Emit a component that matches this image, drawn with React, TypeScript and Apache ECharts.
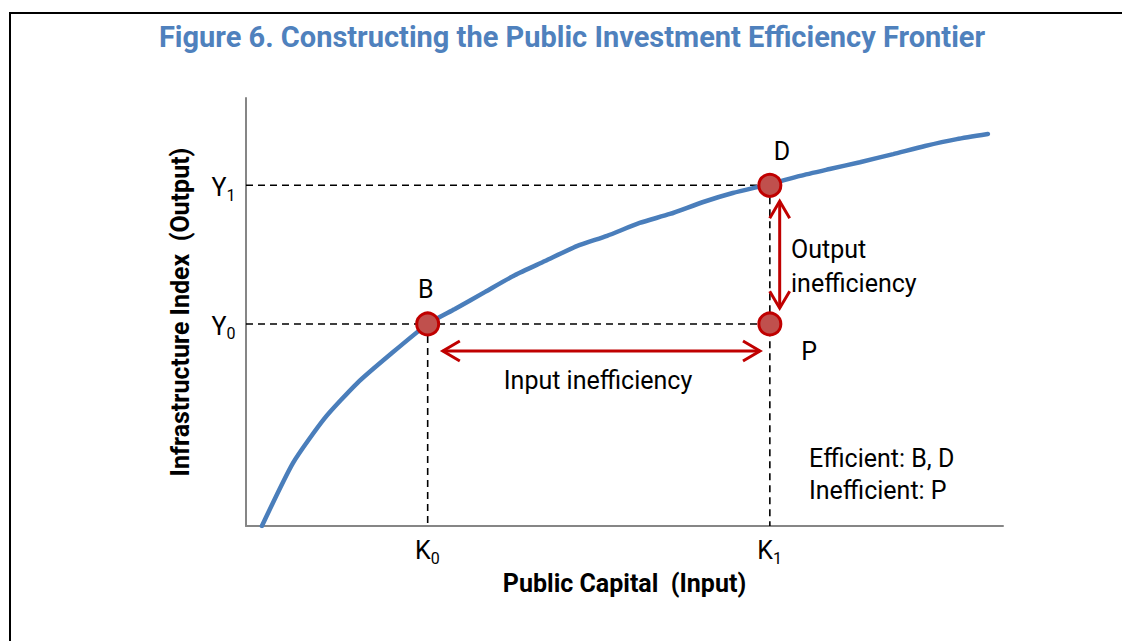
import React, { useEffect, useRef } from "react";
import * as echarts from "echarts";

// Frontier curve (x: public capital, y: infrastructure index)
const frontierX = [2.1, 6.2, 10.4, 14.7, 19.0, 24.0, 27.6, 31.6, 35.5, 39.5, 43.7, 47.7, 52.0, 56.0, 60.4, 64.3, 69.2, 73.2, 77.1, 81.1, 85.5, 89.7, 93.9, 98.0];
const frontierY = [0, 14.7, 25.2, 33.4, 40.0, 47.2, 50.7, 54.7, 58.6, 61.9, 65.4, 67.8, 70.8, 72.9, 75.7, 77.8, 79.9, 81.8, 83.4, 85.0, 86.9, 88.8, 90.4, 91.6];

// Reference levels
const K0 = 24.0;
const K1 = 69.2;
const Y0 = 47.2;
const Y1 = 79.6;

// Points
const pointNames = ["B", "D", "P"];
const pointX = [K0, K1, K1];
const pointY = [Y0, Y1, Y0];

// Tick labels
const xTickValues = [K0, K1];
const xTickLabels = ["{m|K}{s|0}{z| }", "{m|K}{s|1}{z| }"];
const yTickValues = [Y0, Y1];
const yTickLabels = ["{m|Y}{s|0}{z| }", "{m|Y}{s|1}{z| }"];

// Arrows [x1, y1, x2, y2]
const arrowInput = [26.0, 40.9, 67.9, 40.9];
const arrowOutput = [70.5, 75.9, 70.5, 50.9];

const FONT = "Roboto";
const RED = "#C00000";
const FS = 25;

export default function App() {
  const ref = useRef<HTMLDivElement>(null);
  useEffect(() => {
    document.body.style.margin = "0";
    const chart = echarts.init(ref.current!, null, { renderer: "svg" });
    const rich = {
      m: { fontSize: FS, fontFamily: FONT, color: "#000", lineHeight: 24, verticalAlign: "top" as const },
      s: { fontSize: 16, fontFamily: FONT, color: "#000", lineHeight: 16, verticalAlign: "bottom" as const },
      z: { fontSize: 2, lineHeight: 28 },
    };
    const dash = { color: "#000", width: 1.6, type: [7, 5] as any };
    chart.setOption({
      animation: false,
      grid: { left: 246, right: 119, top: 98, bottom: 115, containLabel: false },
      xAxis: {
        type: "value",
        min: 0,
        max: 100,
        splitLine: { show: false },
        axisTick: { show: false },
        axisLine: { show: true, lineStyle: { color: "#868686", width: 2 } },
        axisLabel: {
          customValues: xTickValues,
          formatter: (v: number) => xTickLabels[xTickValues.indexOf(v)] ?? "",
          rich,
          margin: 12,
        },
        name: "Public Capital  (Input)",
        nameLocation: "middle",
        nameGap: 44,
        nameTextStyle: { fontFamily: FONT, fontWeight: "bold", fontSize: 25, color: "#000" },
      },
      yAxis: {
        type: "value",
        min: 0,
        max: 100,
        splitLine: { show: false },
        axisTick: { show: false },
        axisLine: { show: true, lineStyle: { color: "#868686", width: 2 } },
        axisLabel: {
          customValues: yTickValues,
          formatter: (v: number) => yTickLabels[yTickValues.indexOf(v)] ?? "",
          rich,
          margin: 10,
          padding: [8, 0, 0, 0],
        },
        name: "Infrastructure Index  (Output)",
        nameLocation: "middle",
        nameRotate: 90,
        nameGap: 53,
        nameTextStyle: { fontFamily: FONT, fontWeight: "bold", fontSize: 25, color: "#000" },
      },
      series: [
        { type: "line", data: [[0, Y1], [K1, Y1]], symbol: "none", lineStyle: dash, z: 1 },
        { type: "line", data: [[0, Y0], [K1, Y0]], symbol: "none", lineStyle: dash, z: 1 },
        { type: "line", data: [[K0, Y0], [K0, 0]], symbol: "none", lineStyle: dash, z: 1 },
        { type: "line", data: [[K1, Y1], [K1, 0]], symbol: "none", lineStyle: dash, z: 1 },
        {
          type: "line",
          data: frontierX.map((x, i) => [x, frontierY[i]]),
          symbol: "none",
          smooth: 0.2,
          lineStyle: { color: "#4A7EBB", width: 4.5, cap: "round" },
          z: 2,
        },
        {
          type: "custom",
          z: 3,
          data: [arrowInput, arrowOutput],
          renderItem: (_p: any, api: any) => {
            const a = api.coord([api.value(0), api.value(1)]);
            const b = api.coord([api.value(2), api.value(3)]);
            const dx = b[0] - a[0];
            const dy = b[1] - a[1];
            const len = Math.hypot(dx, dy);
            const ux = dx / len, uy = dy / len;
            const nx = -uy, ny = ux;
            const L = 17, W = 10;
            const st = { stroke: RED, lineWidth: 3, fill: null, lineJoin: "miter" };
            const headB = [
              [b[0] - ux * L + nx * W, b[1] - uy * L + ny * W],
              [b[0], b[1]],
              [b[0] - ux * L - nx * W, b[1] - uy * L - ny * W],
            ];
            const headA = [
              [a[0] + ux * L + nx * W, a[1] + uy * L + ny * W],
              [a[0], a[1]],
              [a[0] + ux * L - nx * W, a[1] + uy * L - ny * W],
            ];
            return {
              type: "group",
              children: [
                { type: "line", shape: { x1: a[0], y1: a[1], x2: b[0], y2: b[1] }, style: st },
                { type: "polyline", shape: { points: headA }, style: st },
                { type: "polyline", shape: { points: headB }, style: st },
              ],
            };
          },
        },
        {
          type: "scatter",
          z: 4,
          symbolSize: 22,
          data: pointX.map((x, i) => ({
            value: [x, pointY[i]],
            name: pointNames[i],
            label: {
              show: true,
              formatter: pointNames[i],
              position: i === 2 ? "right" : "top",
              offset: i === 0 ? [-2, -4] : i === 1 ? [12, -4] : [14, 28],
              fontFamily: FONT,
              fontSize: FS,
              color: "#000",
            },
          })),
          itemStyle: { color: "#C0504D", borderColor: RED, borderWidth: 3, opacity: 1 },
        },
      ],
      graphic: [
        { type: "rect", shape: { x: 9, y: 12, width: 1113, height: 2 }, style: { fill: "#000" } },
        { type: "rect", shape: { x: 9, y: 12, width: 2, height: 629 }, style: { fill: "#000" } },
        {
          type: "text",
          x: 572,
          y: 37,
          style: {
            text: "Figure 6. Constructing the Public Investment Efficiency Frontier",
            fontFamily: FONT,
            fontWeight: "bold",
            fontSize: 29,
            fill: "#4F81BD",
            align: "center",
            verticalAlign: "middle",
          },
        },
        {
          type: "text",
          x: 598,
          y: 380,
          style: { text: "Input inefficiency", fontFamily: FONT, fontSize: FS, fill: "#000", align: "center", verticalAlign: "middle" },
        },
        {
          type: "text",
          x: 791,
          y: 266,
          style: { text: "Output\ninefficiency", fontFamily: FONT, fontSize: FS, lineHeight: 34, fill: "#000", align: "left", verticalAlign: "middle" },
        },
        {
          type: "text",
          x: 809,
          y: 474,
          style: { text: "Efficient: B, D\nInefficient: P", fontFamily: FONT, fontSize: FS, lineHeight: 32, fill: "#000", align: "left", verticalAlign: "middle" },
        },
      ],
    });
    return () => chart.dispose();
  }, []);
  return <div ref={ref} style={{ width: 1122, height: 641 }} />;
}
